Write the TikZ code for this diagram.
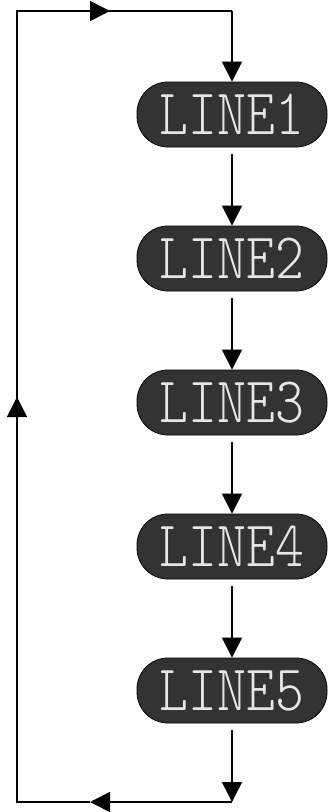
\documentclass[tikz,border=0pt]{standalone}
\usepackage{fontspec}
\newfontfamily\lcdfont{Latin Modern Mono Light}
\usetikzlibrary{arrows.meta}
\begin{document}
\begin{tikzpicture}[x=1pt,y=1pt,
  pill/.style={draw=black,line width=0.8pt,fill=lcdbg,rounded corners=31pt,
    minimum width=190pt,minimum height=65pt,inner sep=0pt,
    font=\lcdfont\fontsize{50}{50}\selectfont,text=lcdtext},
  link/.style={line width=1.5pt,black},
  arr/.style={link,-{Triangle[length=20pt,width=20pt]}}
]
\definecolor{lcdbg}{HTML}{333333}
\definecolor{lcdtext}{HTML}{E6E6E6}
\useasboundingbox (0,0) rectangle (329,-812);
\foreach \i/\y in {1/114.5,2/258.5,3/402.5,4/546.5,5/690.5}{
  \node[pill] (p\i) at (232,-\y) {\scalebox{1.1}[1.3]{LINE\i}};
}
\coordinate (tl) at (17,-11);
\coordinate (tr) at (232,-11);
\coordinate (bl) at (17,-802);
\coordinate (br) at (232,-802);
\coordinate (mb) at (90,-802);
\coordinate (ml) at (17,-397);
\coordinate (mt) at (110,-11);
\foreach \a/\b in {1/2,2/3,3/4,4/5}{
  \draw[arr] ([yshift=-7pt]p\a.south) -- (p\b.north);
}
\draw[arr] ([yshift=-7pt]p5.south) -- (br);
\draw[arr] (br) -- (mb);
\draw[link] (mb) -- (bl) -- (ml);
\draw[arr] (bl) -- (ml);
\draw[link] (ml) -- (tl) -- (mt);
\draw[arr] (tl) -- (mt);
\draw[link] (mt) -- (tr);
\draw[arr] (tr) -- (p1.north);
\end{tikzpicture}
\end{document}
